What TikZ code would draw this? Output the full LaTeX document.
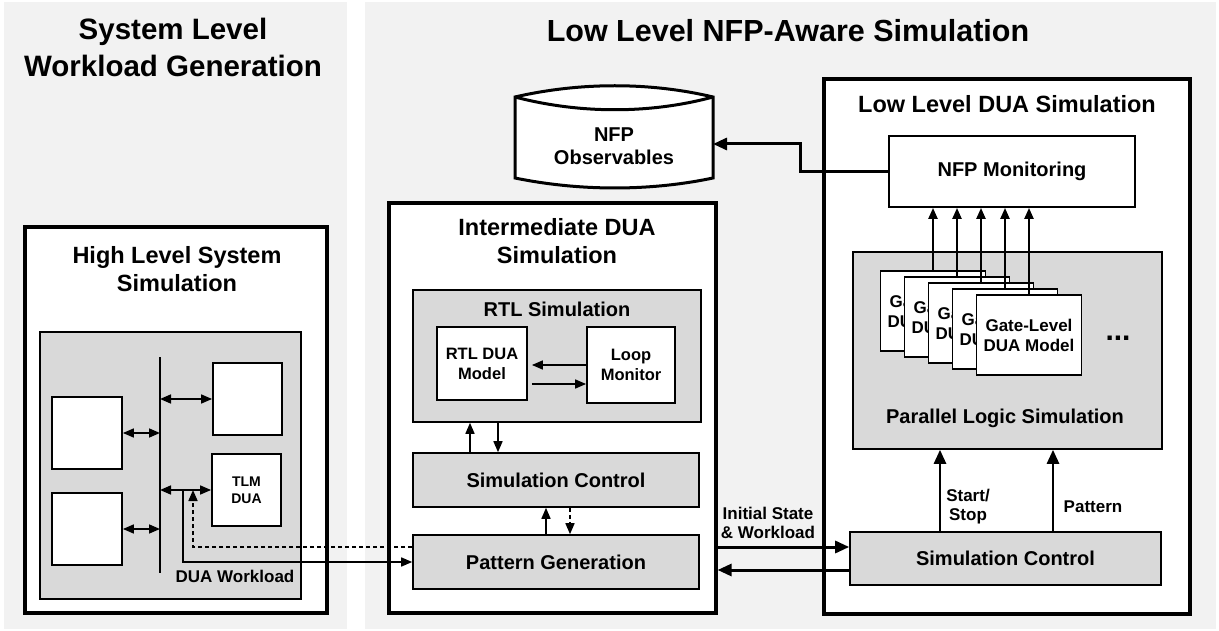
\documentclass[tikz,border=0pt]{standalone}
\usepackage{fontspec}
\setmainfont{Liberation Sans}
\usepackage{tikz}
\usepackage{xcolor}
\usetikzlibrary{calc}
\usetikzlibrary{positioning, fit, arrows.meta}

\definecolor{panelgray}{HTML}{F2F2F2}
\definecolor{boxgray}{HTML}{D9D9D9}

\begin{document}
\begin{tikzpicture}[x=1pt, y=-1pt, >={Triangle[length=11pt, width=9pt]}]
    % Define the styles for boxes, titles and connectors
    \tikzstyle{big box}=[draw=black, line width=3.2pt, fill=white, inner sep=0pt];
    \tikzstyle{gray box}=[draw=black, line width=1.6pt, fill=boxgray, inner sep=0pt, font=\fontsize{20}{24}\selectfont\bfseries];
    \tikzstyle{white box}=[draw=black, line width=1.8pt, fill=white, inner sep=0pt, align=center, font=\fontsize{16.5}{20}\selectfont\bfseries];
    \tikzstyle{gate box}=[white box, font=\fontsize{17}{20}\selectfont\bfseries, minimum width=105pt, minimum height=80pt];
    \tikzstyle{heading}=[align=center, inner sep=0pt, font=\fontsize{29.5}{37}\selectfont\bfseries];
    \tikzstyle{box title}=[align=center, inner sep=0pt, font=\fontsize{23.5}{28}\selectfont\bfseries];
    \tikzstyle{gray title}=[inner sep=0pt, font=\fontsize{20}{24}\selectfont\bfseries];
    \tikzstyle{arrow text}=[align=center, inner sep=0pt, font=\fontsize{17}{19}\selectfont\bfseries];
    \tikzstyle{thin conn}=[line width=1.6pt, ->];
    \tikzstyle{mid conn}=[line width=2.2pt, ->];
    \tikzstyle{thick conn}=[line width=3pt, -{Triangle[length=14pt, width=12pt]}];

    % Page and the two gray panels
    \useasboundingbox (0,0) rectangle (1219,631);
    \fill[white] (0,0) rectangle (1219,631);
    \fill[panelgray] (4,2) rectangle (347,629);
    \fill[panelgray] (365,2) rectangle (1216,629);

    \node[heading] (syshead) at (173,47) {System Level\\Workload Generation};
    \node[heading, font=\fontsize{30.5}{37}\selectfont\bfseries] (lowhead) at (788,31) {Low Level NFP-Aware Simulation};

    % High level system simulation
    \node[big box, fit={(25,227) (327,613)}] (highsim) {};
    \node[box title] (hightitle) at (177,269) {High Level System\\Simulation};
    \node[gray box, fit={(40,332) (301,599)}] (soc) {};
    \coordinate (bustop) at (160,357);
    \coordinate (busbot) at (160,573);
    \draw[line width=1.6pt] (bustop) -- (busbot);
    \node[white box, fit={(52,397) (122,469)}] (ip1) {};
    \node[white box, fit={(52,493) (122,565)}] (ip2) {};
    \node[white box, fit={(213,363) (282,435)}] (ip3) {};
    \node[white box, minimum width=69pt, minimum height=72pt, font=\fontsize{14}{17}\selectfont\bfseries] (tlm) at (246.5,490) {TLM\\DUA};
    \draw[line width=1.6pt, <->] (ip1.east) -- (ip1.east -| bustop);
    \draw[line width=1.6pt, <->] (ip2.east) -- (ip2.east -| bustop);
    \draw[line width=1.6pt, <->] (ip3.west -| bustop) -- (ip3.west);
    \draw[line width=1.6pt, <->] (tlm.west -| bustop) -- (tlm.west);
    \coordinate (wlsplit) at (183,490);
    \coordinate (wlback) at (193,490);
    \node[arrow text] (wltext) at (235,576) {DUA Workload};

    % Intermediate DUA simulation
    \node[big box, fit={(389,203) (716,613)}] (inter) {};
    \node[box title] (intertitle) at (557,241) {Intermediate DUA\\Simulation};
    \node[gray box, fit={(413,290) (701,422)}] (rtl) {};
    \node[gray title] (rtltitle) at (557,309) {RTL Simulation};
    \node[white box, minimum width=90pt, minimum height=73pt] (rtldua) at (482,363.5) {RTL DUA\\Model};
    \node[white box, minimum width=88pt, minimum height=76pt] (loopmon) at (631,365) {Loop\\Monitor};
    \node[gray box, minimum width=286pt, minimum height=54pt] (intctrl) at (556,480) {Simulation Control};
    \node[gray box, minimum width=286pt, minimum height=54pt] (patgen) at (556,562) {Pattern Generation};

    \draw[thin conn] (loopmon.west |- 0,365) -- ([xshift=4pt]rtldua.east |- 0,365);
    \draw[thin conn] ([xshift=4pt]rtldua.east |- 0,384) -- (loopmon.west |- 0,384);
    \draw[thin conn] (intctrl.north -| 470,0) -- (rtl.south -| 470,0);
    \draw[thin conn] (rtl.south -| 498,0) -- (intctrl.north -| 498,0);
    \draw[thin conn] (patgen.north -| 546,0) -- (intctrl.south -| 546,0);
    \draw[thin conn, dash pattern=on 4pt off 3pt] (intctrl.south -| 570,0) -- (patgen.north -| 570,0);

    % DUA workload to and from the pattern generation
    \draw[thin conn] (wlsplit) |- (patgen.west);
    \draw[thin conn, dash pattern=on 4pt off 3pt] (patgen.west |- 0,547) -| (wlback);

    % NFP observables store
    \draw[line width=3pt, fill=white] (515,97) .. controls (580,82) and (650,82) .. (713,97)
        -- (713,178) .. controls (650,191.3) and (580,191.3) .. (515,178) -- cycle;
    \draw[line width=3pt] (515,97) .. controls (580,114) and (650,114) .. (713,97);
    \node[font=\fontsize{20}{23}\selectfont\bfseries, align=center, minimum width=198pt, minimum height=81pt, inner sep=0pt] (obs) at (614,146) {NFP\\Observables};

    % Low level DUA simulation
    \node[big box, fit={(824,79) (1190,614)}] (lowsim) {};
    \node[box title] (lowtitle) at (1007,104) {Low Level DUA Simulation};
    \node[white box, minimum width=246pt, minimum height=71pt, font=\fontsize{20}{24}\selectfont\bfseries] (nfpmon) at (1012,171.5) {NFP Monitoring};
    \node[gray box, fit={(853,252) (1162,449)}] (parsim) {};
    \node[gray title] (partitle) at (1005,418) {Parallel Logic Simulation};
    \foreach \i in {1,...,5}
        \node[gate box] (gate\i) at ({933+24*(\i-1)}, {311+6*(\i-1)}) {Gate-Level\\DUA Model};
    \node[font=\fontsize{30}{30}\selectfont\bfseries] (dots) at (1118,338) {...};
    \node[gray box, minimum width=311pt, minimum height=53pt] (lowctrl) at (1005.5,558.5) {Simulation Control};

    \foreach \i in {1,...,5}
        \draw[mid conn] (gate\i.north) -- (gate\i.north |- nfpmon.south);
    \draw[thick conn, line width=2.6pt] (lowctrl.north -| 940,0) -- (parsim.south -| 940,0);
    \draw[thick conn, line width=2.6pt] (lowctrl.north -| 1053,0) -- (parsim.south -| 1053,0);
    \node[arrow text] (starttext) at (968,507) {Start/\\Stop};
    \node[arrow text] (pattext) at (1093,507) {Pattern};

    % Connections between the blocks
    \draw[thick conn] (nfpmon.west) -| (800,144) -- (713,144);
    \draw[thick conn] (inter.east |- 0,547) -- (lowctrl.west |- 0,547);
    \draw[thick conn] (lowctrl.west |- 0,570) -- (inter.east |- 0,570);
    \node[arrow text] (inittext) at (768,523) {Initial State\\\& Workload};
\end{tikzpicture}
\end{document}
